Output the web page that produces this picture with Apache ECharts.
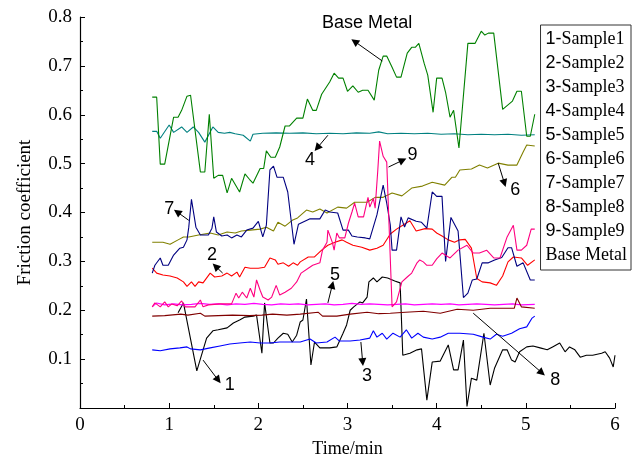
<!DOCTYPE html>
<html>
<head>
<meta charset="utf-8">
<script src="https://cdn.jsdelivr.net/npm/echarts@6/dist/echarts.min.js"></script>
<style>html,body{margin:0;padding:0;background:#fff}#c{width:632px;height:469px}</style>
</head>
<body>
<div id="c"></div>
<script>
// ---- data (time in min, friction coefficient) ----
const seriesNames = ['1-Sample1','2-Sample2','3-Sample3','4-Sample4','5-Sample5','6-Sample6','7-Sample7','8-Sample8','9-Sample9','Base Metal'];
const xTicks = [0,1,2,3,4,5,6];
const yTicks = [0.1,0.2,0.3,0.4,0.5,0.6,0.7,0.8];

const sample1 = [[1.10,0.195],[1.16,0.215],[1.31,0.076],[1.42,0.143],[1.49,0.158],[1.55,0.160],[1.65,0.164],[1.72,0.174],[1.79,0.180],[1.85,0.186],[1.94,0.188],[1.98,0.190],[2.04,0.112],[2.07,0.215],[2.13,0.133],[2.17,0.133],[2.22,0.143],[2.28,0.153],[2.33,0.151],[2.38,0.135],[2.43,0.149],[2.47,0.176],[2.50,0.180],[2.54,0.223],[2.59,0.088],[2.63,0.135],[2.69,0.123],[2.80,0.123],[2.88,0.125],[2.95,0.153],[2.99,0.170],[3.03,0.200],[3.07,0.207],[3.14,0.217],[3.17,0.215],[3.22,0.227],[3.24,0.258],[3.29,0.266],[3.33,0.258],[3.39,0.268],[3.45,0.266],[3.53,0.260],[3.59,0.256],[3.62,0.108],[3.70,0.112],[3.78,0.119],[3.83,0.121],[3.89,0.016],[3.95,0.094],[4.04,0.096],[4.13,0.129],[4.19,0.078],[4.24,0.078],[4.30,0.139],[4.34,0.003],[4.39,0.061],[4.45,0.057],[4.53,0.153],[4.60,0.047],[4.65,0.082],[4.74,0.119],[4.79,0.119],[4.84,0.098],[4.88,0.094],[4.93,0.115],[5.01,0.125],[5.08,0.127],[5.16,0.123],[5.24,0.119],[5.30,0.125],[5.38,0.133],[5.44,0.115],[5.49,0.125],[5.55,0.119],[5.61,0.104],[5.68,0.108],[5.75,0.108],[5.85,0.112],[5.89,0.115],[5.94,0.102],[5.98,0.084],[6.00,0.108]];
const sample2 = [[0.81,0.286],[0.86,0.276],[0.93,0.272],[1.01,0.270],[1.09,0.266],[1.16,0.258],[1.20,0.249],[1.25,0.258],[1.29,0.249],[1.33,0.258],[1.38,0.256],[1.46,0.276],[1.51,0.268],[1.59,0.270],[1.65,0.276],[1.70,0.270],[1.76,0.278],[1.79,0.268],[1.85,0.288],[1.91,0.286],[2.00,0.286],[2.07,0.288],[2.13,0.307],[2.19,0.303],[2.22,0.294],[2.28,0.297],[2.34,0.290],[2.39,0.297],[2.44,0.292],[2.47,0.299],[2.56,0.309],[2.63,0.309],[2.71,0.323],[2.78,0.333],[2.86,0.339],[2.94,0.344],[2.99,0.339],[3.06,0.333],[3.16,0.329],[3.25,0.323],[3.33,0.327],[3.40,0.333],[3.48,0.356],[3.55,0.366],[3.62,0.374],[3.70,0.383],[3.77,0.362],[3.87,0.367],[3.95,0.366],[4.00,0.358],[4.06,0.352],[4.13,0.344],[4.20,0.339],[4.26,0.344],[4.32,0.345],[4.39,0.327],[4.45,0.265],[4.51,0.258],[4.60,0.256],[4.67,0.251],[4.74,0.270],[4.80,0.299],[4.86,0.309],[4.95,0.307],[5.02,0.292],[5.10,0.303]];
const sample3 = [[0.81,0.119],[0.90,0.117],[1.01,0.121],[1.12,0.123],[1.20,0.125],[1.24,0.121],[1.35,0.119],[1.46,0.123],[1.57,0.127],[1.68,0.131],[1.79,0.133],[1.91,0.135],[2.02,0.133],[2.13,0.133],[2.24,0.135],[2.35,0.135],[2.47,0.135],[2.58,0.141],[2.65,0.133],[2.77,0.135],[2.86,0.145],[2.91,0.137],[3.03,0.137],[3.14,0.139],[3.25,0.143],[3.29,0.158],[3.33,0.145],[3.39,0.153],[3.44,0.141],[3.51,0.153],[3.59,0.145],[3.66,0.160],[3.72,0.143],[3.79,0.153],[3.85,0.145],[3.95,0.141],[4.04,0.145],[4.13,0.153],[4.26,0.153],[4.41,0.151],[4.52,0.145],[4.60,0.141],[4.67,0.151],[4.74,0.147],[4.84,0.153],[4.93,0.162],[5.01,0.166],[5.07,0.184],[5.10,0.188]];
const sample4 = [[0.81,0.566],[0.86,0.566],[0.90,0.552],[1.00,0.579],[1.05,0.564],[1.14,0.575],[1.20,0.564],[1.27,0.575],[1.33,0.564],[1.40,0.544],[1.49,0.575],[1.55,0.564],[1.62,0.562],[1.68,0.564],[1.74,0.561],[1.83,0.558],[1.91,0.546],[1.94,0.560],[2.05,0.562],[2.20,0.563],[2.35,0.562],[2.50,0.563],[2.65,0.561],[2.80,0.562],[2.95,0.561],[3.10,0.563],[3.25,0.562],[3.35,0.565],[3.45,0.561],[3.60,0.562],[3.75,0.561],[3.90,0.562],[4.05,0.560],[4.20,0.561],[4.35,0.559],[4.50,0.560],[4.65,0.559],[4.80,0.560],[4.95,0.558],[5.10,0.559]];
const sample5 = [[0.81,0.207],[0.86,0.215],[0.95,0.211],[1.05,0.213],[1.15,0.211],[1.25,0.212],[1.35,0.214],[1.45,0.212],[1.55,0.213],[1.65,0.211],[1.75,0.213],[1.85,0.212],[1.95,0.214],[2.05,0.212],[2.15,0.211],[2.25,0.213],[2.35,0.212],[2.45,0.213],[2.55,0.211],[2.65,0.212],[2.75,0.213],[2.85,0.211],[2.95,0.212],[3.05,0.214],[3.15,0.212],[3.25,0.213],[3.35,0.212],[3.45,0.211],[3.55,0.212],[3.65,0.213],[3.75,0.211],[3.85,0.212],[3.95,0.213],[4.05,0.212],[4.15,0.213],[4.25,0.211],[4.35,0.212],[4.45,0.213],[4.55,0.212],[4.65,0.211],[4.75,0.212],[4.85,0.213],[4.95,0.211],[5.10,0.212]];
const sample6 = [[0.81,0.339],[0.93,0.339],[1.01,0.335],[1.10,0.344],[1.16,0.350],[1.22,0.350],[1.33,0.354],[1.46,0.358],[1.55,0.354],[1.65,0.360],[1.74,0.358],[1.81,0.362],[1.91,0.364],[2.02,0.366],[2.09,0.370],[2.17,0.362],[2.22,0.380],[2.30,0.372],[2.38,0.384],[2.44,0.389],[2.54,0.405],[2.61,0.401],[2.69,0.407],[2.77,0.399],[2.89,0.411],[2.99,0.409],[3.08,0.421],[3.22,0.421],[3.31,0.431],[3.40,0.431],[3.50,0.440],[3.61,0.434],[3.72,0.450],[3.84,0.454],[3.95,0.462],[4.09,0.456],[4.17,0.472],[4.21,0.472],[4.26,0.487],[4.39,0.489],[4.48,0.497],[4.57,0.491],[4.69,0.501],[4.80,0.497],[4.90,0.497],[4.97,0.524],[5.01,0.538],[5.10,0.536]];
const sample7 = [[0.81,0.276],[0.84,0.292],[0.90,0.307],[0.93,0.292],[0.99,0.292],[1.05,0.313],[1.12,0.327],[1.16,0.329],[1.20,0.344],[1.22,0.370],[1.25,0.427],[1.30,0.370],[1.35,0.354],[1.44,0.354],[1.48,0.368],[1.50,0.391],[1.53,0.360],[1.59,0.352],[1.65,0.354],[1.70,0.348],[1.76,0.354],[1.81,0.350],[1.87,0.364],[1.94,0.368],[2.00,0.382],[2.05,0.350],[2.09,0.374],[2.13,0.487],[2.17,0.495],[2.21,0.472],[2.28,0.472],[2.33,0.442],[2.40,0.335],[2.45,0.376],[2.47,0.378],[2.58,0.387],[2.69,0.387],[2.75,0.405],[2.80,0.401],[2.89,0.399],[2.95,0.364],[3.01,0.364],[3.05,0.352],[3.11,0.350],[3.20,0.348],[3.25,0.346],[3.33,0.395],[3.40,0.456],[3.44,0.419],[3.48,0.374],[3.50,0.323],[3.55,0.323],[3.60,0.391],[3.64,0.370],[3.68,0.389],[3.77,0.382],[3.83,0.380],[3.89,0.368],[3.95,0.442],[4.00,0.433],[4.06,0.433],[4.10,0.300],[4.16,0.390],[4.24,0.362],[4.30,0.226],[4.35,0.235],[4.40,0.262],[4.45,0.264],[4.51,0.297],[4.58,0.297],[4.65,0.303],[4.73,0.308],[4.80,0.328],[4.84,0.328],[4.90,0.290],[4.97,0.297],[5.05,0.262],[5.10,0.262]];
const sample8 = [[0.81,0.188],[0.95,0.189],[1.13,0.192],[1.21,0.190],[1.35,0.194],[1.40,0.188],[1.55,0.189],[1.71,0.190],[1.90,0.189],[2.04,0.190],[2.16,0.192],[2.32,0.190],[2.47,0.192],[2.67,0.196],[2.72,0.188],[2.88,0.188],[3.03,0.192],[3.22,0.196],[3.35,0.193],[3.48,0.194],[3.65,0.196],[3.85,0.198],[4.04,0.194],[4.23,0.202],[4.41,0.200],[4.60,0.204],[4.79,0.204],[4.87,0.204],[4.90,0.225],[4.95,0.207],[5.10,0.204]];
const sample9 = [[0.81,0.207],[0.84,0.215],[0.90,0.207],[0.95,0.217],[0.99,0.207],[1.03,0.213],[1.09,0.209],[1.14,0.219],[1.18,0.207],[1.29,0.207],[1.35,0.221],[1.38,0.207],[1.44,0.211],[1.57,0.213],[1.70,0.213],[1.75,0.235],[1.78,0.225],[1.82,0.237],[1.87,0.225],[1.91,0.245],[1.95,0.227],[1.98,0.262],[2.02,0.241],[2.05,0.227],[2.11,0.221],[2.15,0.227],[2.20,0.251],[2.24,0.231],[2.30,0.237],[2.37,0.245],[2.43,0.258],[2.48,0.276],[2.56,0.286],[2.61,0.292],[2.69,0.297],[2.72,0.323],[2.77,0.339],[2.78,0.364],[2.83,0.339],[2.85,0.323],[2.88,0.358],[2.91,0.348],[2.97,0.348],[3.01,0.378],[3.05,0.401],[3.08,0.419],[3.12,0.391],[3.18,0.391],[3.23,0.431],[3.25,0.411],[3.29,0.429],[3.31,0.409],[3.34,0.487],[3.36,0.546],[3.40,0.515],[3.44,0.503],[3.50,0.207],[3.55,0.217],[3.61,0.258],[3.67,0.268],[3.72,0.276],[3.78,0.297],[3.81,0.303],[3.85,0.299],[3.89,0.292],[3.95,0.292],[4.00,0.305],[4.06,0.317],[4.15,0.307],[4.24,0.323],[4.34,0.333],[4.41,0.317],[4.48,0.317],[4.56,0.323],[4.64,0.307],[4.71,0.307],[4.79,0.350],[4.86,0.374],[4.90,0.323],[4.95,0.323],[5.01,0.333],[5.06,0.366],[5.10,0.366]];
const baseMetal = [[0.81,0.636],[0.86,0.636],[0.90,0.499],[0.95,0.499],[1.05,0.595],[1.10,0.595],[1.14,0.609],[1.20,0.638],[1.24,0.640],[1.35,0.483],[1.40,0.483],[1.45,0.601],[1.50,0.470],[1.55,0.476],[1.60,0.476],[1.65,0.440],[1.70,0.470],[1.79,0.442],[1.85,0.479],[1.90,0.468],[1.94,0.460],[2.02,0.490],[2.06,0.490],[2.09,0.526],[2.14,0.513],[2.19,0.513],[2.24,0.534],[2.30,0.577],[2.35,0.577],[2.43,0.593],[2.50,0.593],[2.55,0.632],[2.61,0.609],[2.65,0.609],[2.71,0.642],[2.80,0.667],[2.85,0.685],[2.90,0.675],[2.95,0.675],[3.00,0.648],[3.06,0.659],[3.12,0.646],[3.17,0.650],[3.23,0.650],[3.30,0.630],[3.35,0.691],[3.40,0.720],[3.44,0.720],[3.50,0.697],[3.55,0.677],[3.60,0.677],[3.67,0.726],[3.72,0.738],[3.76,0.738],[3.80,0.746],[3.86,0.705],[3.90,0.681],[3.96,0.605],[4.00,0.675],[4.06,0.675],[4.10,0.646],[4.15,0.595],[4.19,0.609],[4.25,0.532],[4.35,0.746],[4.43,0.746],[4.50,0.771],[4.54,0.763],[4.58,0.767],[4.64,0.767],[4.74,0.611],[4.85,0.628],[4.90,0.648],[4.95,0.648],[5.01,0.556],[5.05,0.556],[5.10,0.601]];

// annotation labels [t, value, text] and arrows [fromT, fromV, toT, toV] (data units)
const annotLabels = [[3.22,0.787,'Base Metal'],[2.58,0.507,'4'],[3.73,0.517,'9'],[4.88,0.446,'6'],[1.00,0.407,'7'],[1.48,0.313,'2'],[2.86,0.272,'5'],[1.68,0.047,'1'],[3.22,0.065,'3'],[5.33,0.057,'8']];
const annotArrows = [[3.39,0.710,3.08,0.750],[2.78,0.558,2.66,0.532],[3.46,0.493,3.62,0.507],[4.69,0.501,4.76,0.460],[1.22,0.384,1.09,0.401],[1.60,0.276,1.52,0.290],[2.78,0.215,2.83,0.252],[1.38,0.098,1.55,0.057],[3.15,0.135,3.17,0.094],[4.41,0.194,5.18,0.072]];

const seriesData = [sample1,sample2,sample3,sample4,sample5,sample6,sample7,sample8,sample9,baseMetal];
const colors = ['#000000','#ff0000','#0000ff','#008080','#ff00ff','#808000','#000080','#800000','#ff0080','#008000'];

const serif = 'Liberation Serif, Times New Roman, serif';
const sans = 'Liberation Sans, Arial, sans-serif';

const chart = echarts.init(document.getElementById('c'), null, {renderer:'canvas'});
const series = seriesData.map((d,i)=>({
  name: seriesNames[i], type:'line', data:d, showSymbol:false, symbol:'none',
  lineStyle:{color:colors[i], width:1.1}, itemStyle:{color:colors[i]},
  animation:false, silent:true, z: 2
}));
series.push({
  name:'annot', type:'scatter', data: annotLabels, symbolSize:0, silent:true, animation:false, z:5,
  itemStyle:{opacity:1, color:'#000'},
  label:{show:true, position:'inside', formatter:p=>p.value[2], fontFamily:sans, fontSize:18, color:'#000', opacity:1, textBorderWidth:0},
  markLine:{silent:true, animation:false, symbol:['none','triangle'], symbolSize:8,
    lineStyle:{color:'#000', width:1, type:'solid', opacity:1}, label:{show:false},
    emphasis:{disabled:true},
    data: annotArrows.map(a=>[{coord:[a[0],a[1]]},{coord:[a[2],a[3]]}])}
});

chart.setOption({
  backgroundColor:'#fff',
  animation:false,
  grid:{left:80, right:17, top:17, bottom:61},
  legend:{
    data:seriesNames, orient:'vertical', right:1, top:25, icon:'none', itemWidth:0, itemHeight:18, itemGap:6,
    selectedMode:false, borderColor:'#333', borderWidth:1, padding:[5,4,6,0],
    formatter: n => { const m = n.match(/^(\d)-(.*)$/); return m ? '{d|'+m[1]+'-}{s|'+m[2]+'}' : '{s|'+n+'}'; },
    textStyle:{ rich:{ d:{fontFamily:sans, fontSize:18, color:'#000'}, s:{fontFamily:serif, fontSize:18, color:'#000'} } }
  },
  xAxis:{
    type:'value', min:xTicks[0], max:xTicks[xTicks.length-1], interval:1,
    name:'Time/min', nameLocation:'middle', nameGap:26,
    nameTextStyle:{fontFamily:serif, fontSize:18, color:'#000'},
    axisLine:{show:true, lineStyle:{color:'#000', width:1.2}},
    axisTick:{show:true, inside:true, length:5, lineStyle:{color:'#000'}},
    minorTick:{show:true, splitNumber:2, length:3, lineStyle:{color:'#000'}},
    axisLabel:{fontFamily:serif, fontSize:19, color:'#000', margin:8},
    splitLine:{show:false}
  },
  yAxis:{
    type:'value', min:0, max:0.8, interval:0.1,
    name:'Friction coefficient', nameLocation:'middle', nameGap:45,
    nameTextStyle:{fontFamily:serif, fontSize:19, color:'#000'},
    axisLine:{show:true, lineStyle:{color:'#000', width:1.2}},
    axisTick:{show:true, inside:true, length:5, lineStyle:{color:'#000'}},
    minorTick:{show:true, splitNumber:2, length:3, lineStyle:{color:'#000'}},
    axisLabel:{fontFamily:serif, fontSize:19, color:'#000', margin:8, showMinLabel:false,
      formatter:v=>v.toFixed(1)},
    splitLine:{show:false}
  },
  series: series
});
</script>
</body>
</html>
